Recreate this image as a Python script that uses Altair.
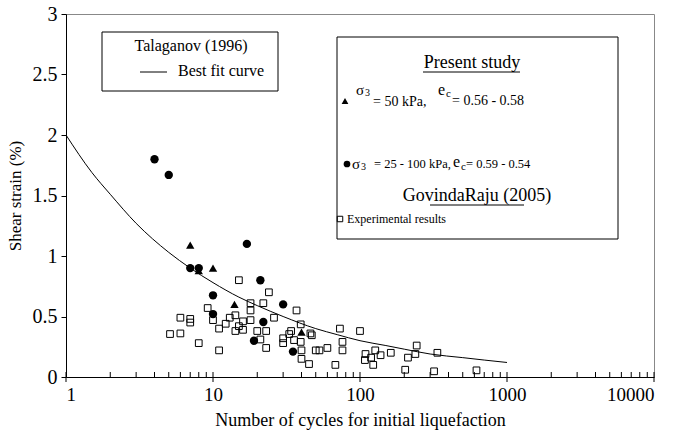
import altair as alt
import pandas as pd

# ---------------- data ----------------
circle_x = [4, 5, 17, 7, 8, 21, 10, 10, 30, 22, 19, 35]
circle_y = [1.80, 1.67, 1.10, 0.90, 0.90, 0.80, 0.675, 0.52, 0.60, 0.455, 0.30, 0.21]

tri_x = [7, 8, 10, 14, 40]
tri_y = [1.09, 0.88, 0.90, 0.60, 0.37]

sq_x = [15, 9.2, 10, 6, 7, 7, 5.1, 6, 8, 11, 11, 12.2, 13, 14.2, 14.2, 15, 16, 16,
        24, 18, 22, 18, 37, 26, 18, 39.5, 20, 23, 34, 33, 46, 47, 30, 21, 35.6,
        39.5, 30, 23, 40, 50, 53, 60, 40, 45, 68, 73, 100, 76, 76, 109, 127, 138,
        108, 119, 123, 162, 212, 238, 243, 336, 203, 319, 620]
sq_y = [0.80, 0.57, 0.47, 0.49, 0.48, 0.45, 0.355, 0.36, 0.28, 0.22, 0.40, 0.44, 0.49,
        0.51, 0.38, 0.42, 0.39, 0.46, 0.70, 0.61, 0.61, 0.55, 0.55, 0.49, 0.47, 0.435,
        0.38, 0.38, 0.38, 0.355, 0.36, 0.345, 0.32, 0.31, 0.305, 0.29, 0.28, 0.24,
        0.22, 0.22, 0.22, 0.24, 0.15, 0.107, 0.10, 0.40, 0.38, 0.29, 0.22, 0.19, 0.22,
        0.18, 0.14, 0.16, 0.10, 0.20, 0.16, 0.19, 0.26, 0.20, 0.06, 0.047, 0.055]

curve_x = [1, 1.5, 2, 3, 5, 7, 10, 15, 20, 30, 50, 70, 100, 150, 200, 300, 500, 700, 1000]
curve_y = [2.00, 1.69, 1.51, 1.27, 1.03, 0.90, 0.78, 0.66, 0.59, 0.50, 0.40, 0.35,
           0.30, 0.26, 0.23, 0.19, 0.16, 0.14, 0.12]

x_major = [1, 10, 100, 1000, 10000]
x_minor = [m * d for d in [1, 10, 100, 1000] for m in range(2, 10)]
y_ticks = [0, 0.5, 1, 1.5, 2, 2.5, 3]

FONT = "Liberation Serif, Times New Roman, Times, serif"
W, H = 588, 363

xscale = alt.Scale(type="log", domain=[1, 10000])
yscale = alt.Scale(domain=[0, 3])

circles = pd.DataFrame({"x": circle_x, "y": circle_y})
tris = pd.DataFrame({"x": tri_x, "y": tri_y})
squares = pd.DataFrame({"x": sq_x, "y": sq_y})
curve = pd.DataFrame({"x": curve_x, "y": curve_y})

xaxis = alt.Axis(values=x_major, format="d", ticks=False, grid=False,
                 labelFont=FONT, labelFontSize=19, labelPadding=8,
                 title="Number of cycles for initial liquefaction",
                 titleFont=FONT, titleFontSize=18, titleFontWeight="normal",
                 titlePadding=7, domainColor="black", labelColor="black", titleColor="black")
yaxis = alt.Axis(values=y_ticks, format="~g", grid=False, tickSize=5, tickColor="black",
                 labelFont=FONT, labelFontSize=20, labelPadding=4,
                 title="Shear strain (%)", titleFont=FONT, titleFontSize=17,
                 titleFontWeight="normal", titlePadding=8,
                 domainColor="black", labelColor="black", titleColor="black")

base_line = alt.Chart(curve).mark_line(color="black", strokeWidth=1, interpolate="monotone").encode(
    x=alt.X("x:Q", scale=xscale, axis=xaxis),
    y=alt.Y("y:Q", scale=yscale, axis=yaxis),
)

sq_layer = alt.Chart(squares).mark_point(shape="square", filled=False, color="black",
                                         size=45, strokeWidth=1, opacity=1).encode(
    x=alt.X("x:Q", scale=xscale), y=alt.Y("y:Q", scale=yscale))
tri_layer = alt.Chart(tris).mark_point(shape="triangle-up", filled=True, color="black",
                                       size=70, opacity=1).encode(
    x=alt.X("x:Q", scale=xscale), y=alt.Y("y:Q", scale=yscale))
circ_layer = alt.Chart(circles).mark_point(shape="circle", filled=True, color="black",
                                           size=70, opacity=1).encode(
    x=alt.X("x:Q", scale=xscale), y=alt.Y("y:Q", scale=yscale))

minor_ticks = alt.Chart(pd.DataFrame({"v": x_minor})).mark_rule(color="black", strokeWidth=1).encode(
    x=alt.X("v:Q", scale=xscale), y=alt.value(H - 5), y2=alt.value(H))
major_ticks = alt.Chart(pd.DataFrame({"v": x_major})).mark_rule(color="black", strokeWidth=1).encode(
    x=alt.X("v:Q", scale=xscale), y=alt.value(H - 5), y2=alt.value(H + 5))

one = pd.DataFrame({"a": [0]})


def box(x1, y1, x2, y2):
    return alt.Chart(one).mark_rect(fill="white", stroke="black", strokeWidth=1).encode(
        x=alt.value(x1), x2=alt.value(x2), y=alt.value(y1), y2=alt.value(y2))


def hline(x1, x2, y, w=1):
    return alt.Chart(one).mark_rule(color="black", strokeWidth=w).encode(
        x=alt.value(x1), x2=alt.value(x2), y=alt.value(y))


def txt(s, x, y, size=15, align="left"):
    return alt.Chart(one).mark_text(font=FONT, fontSize=size, align=align, baseline="middle",
                                    color="black").encode(
        x=alt.value(x), y=alt.value(y), text=alt.value(s))


def sym(shape, x, y, size, filled=True):
    return alt.Chart(one).mark_point(shape=shape, filled=filled, color="black", size=size,
                                     opacity=1, strokeWidth=1).encode(
        x=alt.value(x), y=alt.value(y))


R1 = 87    # row 1 centre (plot px)
R2 = 150   # row 2 centre (plot px)
legend_layers = [
    box(36, 18, 212, 77),
    txt("Talaganov (1996)", 125, 32, 16, "center"),
    hline(74, 101, 58),
    txt("Best fit curve", 112, 57, 16),
    box(271, 23, 552, 225),
    txt("Present study", 406, 49, 18, "center"),
    hline(357, 454, 58),
    sym("triangle-up", 279, R1, 45),
    txt("σ", 290, R1 - 11, 15),
    txt("3", 299, R1 - 8, 10),
    txt("= 50 kPa,", 307, R1 + 1, 14),
    txt("e", 372, R1 - 11, 16),
    txt("c", 380, R1 - 7, 11),
    txt("= 0.56 - 0.58", 386, R1, 14),
    sym("circle", 281, R2, 45),
    txt("σ", 286, R2, 15),
    txt("3", 295, R2 + 3, 10),
    txt("= 25 - 100 kPa,", 308, R2, 12.5),
    txt("e", 387, R2 - 2, 16),
    txt("c", 395, R2 + 3, 11),
    txt("= 0.59 - 0.54", 400, R2, 12.5),
    txt("GovindaRaju (2005)", 411, 182, 18, "center"),
    hline(364, 458, 191),
    sym("square", 274, 205, 30, filled=False),
    txt("Experimental results", 281, 205, 12),
]

chart = alt.layer(
    base_line, minor_ticks, major_ticks, sq_layer, tri_layer, circ_layer, *legend_layers
).properties(
    width=W, height=H,
    autosize=alt.AutoSizeParams(type="none"),
    padding={"left": 66, "top": 14, "right": 25, "bottom": 68},
    background="white",
).configure_view(stroke="#888888", strokeWidth=1)

chart.save("out.html", embed_options={"renderer": "svg", "actions": False})
